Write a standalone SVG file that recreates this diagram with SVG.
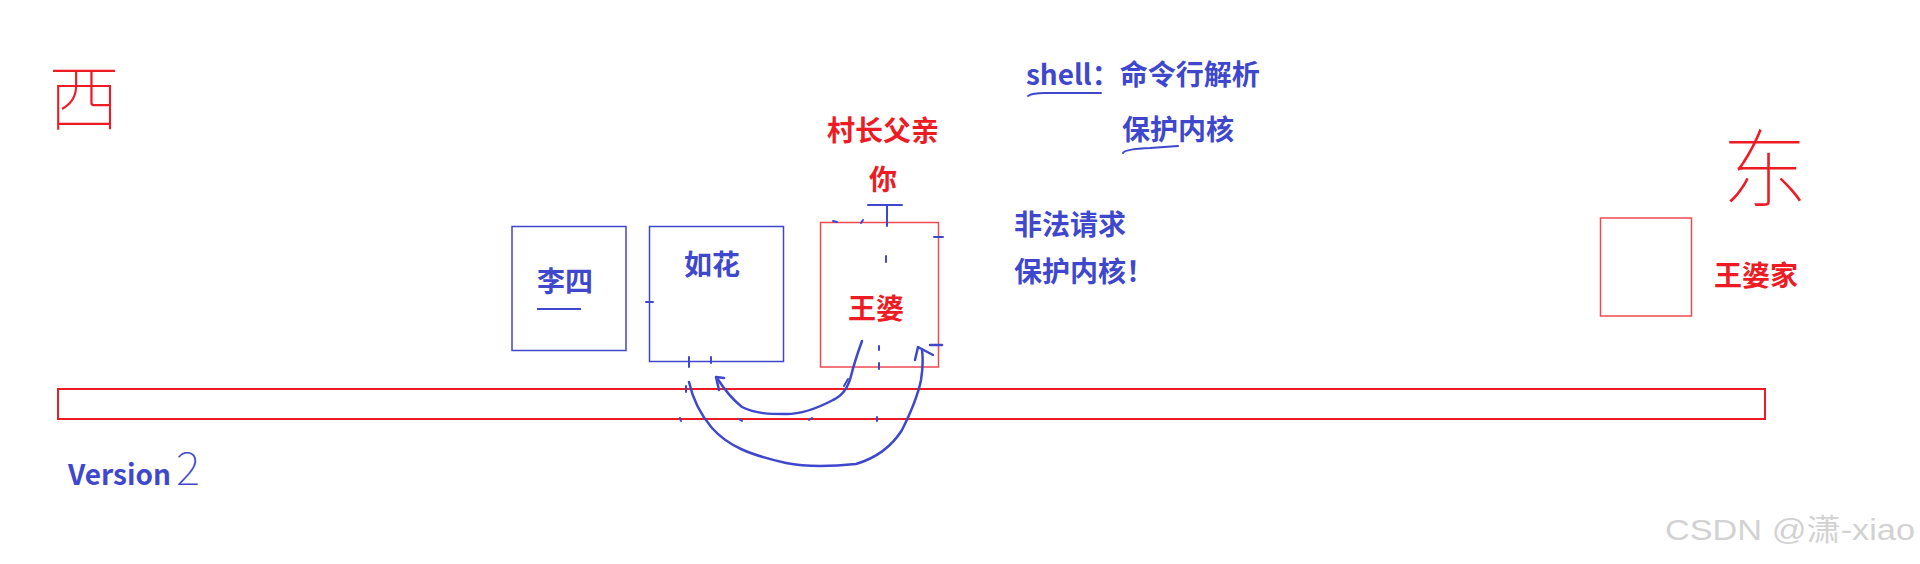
<svg xmlns="http://www.w3.org/2000/svg" width="1920" height="564" viewBox="0 0 1920 564">
<defs>
<style>
.t{font-family:"Noto Sans CJK SC","Liberation Sans",sans-serif;font-weight:700;font-size:28px}
.b{fill:#3f48cc}
.r{fill:#ed1c24}
.hand{font-family:"Noto Sans CJK SC","DejaVu Sans",sans-serif;font-weight:100}
.boxb{fill:none;stroke:#3f48cc;stroke-width:1.5}
.boxr{fill:none;stroke:#ee4a52;stroke-width:1.5}
.ink{fill:none;stroke:#3f48cc;stroke-width:2.5;stroke-linecap:round;stroke-linejoin:round}
.tick{fill:none;stroke:#3f48cc;stroke-width:2;stroke-linecap:round}
</style>
</defs>
<rect width="1920" height="564" fill="#ffffff"/>

<g id="west"><text class="hand r" x="48" y="124" font-size="72">西</text></g>
<g id="east"><text class="hand r" x="1722" y="201" font-size="86">东</text></g>

<g id="bar"><rect x="58" y="389" width="1707" height="30" fill="none" stroke="#ed1c24" stroke-width="2"/></g>

<g id="lisi">
<rect class="boxb" x="512" y="226.5" width="114" height="124" stroke="#7d84e0"/>
<text class="t b" x="565" y="292" text-anchor="middle">李四</text>
<line x1="537" y1="309" x2="581" y2="309" stroke="#3f48cc" stroke-width="2"/>
</g>

<g id="ruhua">
<rect class="boxb" x="649.5" y="226.5" width="134" height="135"/>
<text class="t b" x="712" y="275" text-anchor="middle">如花</text>
</g>

<g id="wangpo">
<rect class="boxr" x="820.5" y="222.5" width="118" height="144.5"/>
<text class="t r" x="876" y="319" text-anchor="middle">王婆</text>
</g>

<g id="father">
<text class="t r" x="883" y="141" text-anchor="middle">村长父亲</text>
<text class="t r" x="883" y="190" text-anchor="middle">你</text>
</g>

<g id="shell">
<text class="t b" x="1026" y="85">shell：命令行解析</text>
<path class="tick" d="M1028,96 Q1032,93 1045,93 L1101,93"/>
<text class="t b" x="1122" y="140">保护内核</text>
<path class="tick" d="M1123,153 Q1125,149 1150,148 L1178,146"/>
</g>

<g id="illegal">
<text class="t b" x="1014" y="235">非法请求</text>
<text class="t b" x="1014" y="282">保护内核！</text>
</g>

<g id="wangpojia">
<rect class="boxr" x="1600.5" y="218" width="91" height="98"/>
<text class="t r" x="1714" y="286">王婆家</text>
</g>

<g id="version">
<text class="t b" x="68" y="485">Version</text>
<text class="hand b" x="176" y="485" font-size="46">2</text>
</g>

<g id="connectors">
<path class="ink" d="M862,341 C858,352 854,364 851,376 C848,388 842,396 833,400 C818,408 800,414 786,414 C770,414 756,414 742,407 C733,400 726,392 717,378"/>
<path class="ink" d="M724,378 L716,377 L719,390"/>
<path class="ink" d="M689,382 C693,400 700,414 712,428 C728,446 750,455 786,463 C806,467 826,467 856,464 C876,458 892,446 902,430 C912,410 918,395 921,380 C923,368 923,358 922,350"/>
<path class="ink" d="M915,360 L918,347 L933,355 M930,345 L942,345"/>
<path class="tick" d="M868,205 L902,205 M887,205 L887,226 M646,302 L653,302 M689,357 L689,367 M711,357 L711,363 M934,237 L943,237 M833,221 L837,222 M861,223 L863,220 M886,256 L886,262 M879,346 L879,350 M879,363 L879,369 M686,386 L686,392 M680,418 L681,421 M739,419 L742,421 M809,420 L812,418 M877,417 L877,421 M848,379 L844,386"/>
</g>

<g id="watermark"><text x="1665" y="540" font-family="'Liberation Sans','Noto Sans CJK SC',sans-serif" font-size="30" fill="#d2d2d2" textLength="250" lengthAdjust="spacingAndGlyphs">CSDN @潇-xiao</text></g>
</svg>
